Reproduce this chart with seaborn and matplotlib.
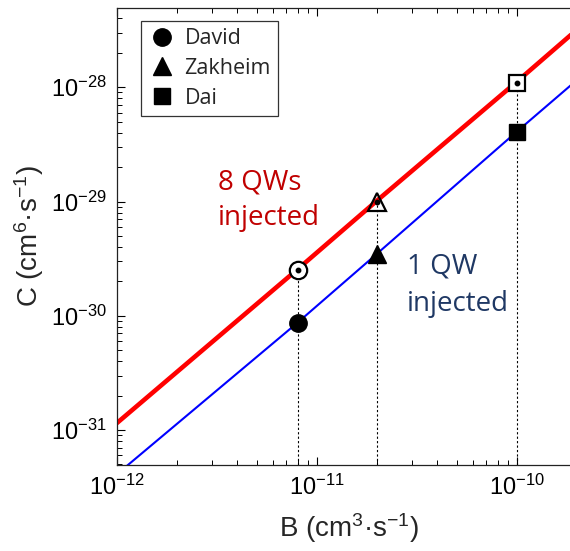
import numpy as np
import pandas as pd
import matplotlib
matplotlib.use("Agg")
import matplotlib.pyplot as plt
from matplotlib.lines import Line2D
from matplotlib.ticker import FixedLocator, NullFormatter, LogFormatterSciNotation
import seaborn as sns

# ── Data ───────────────────────────────────────────────────────
B_line = [1e-12, 8e-12, 2e-11, 1e-10, 2.1e-10]
C_8qw = [1.15e-31, 2.55e-30, 1.02e-29, 1.12e-28, 3.45e-28]
C_1qw = [4.1e-32, 8.7e-31, 3.5e-30, 4.1e-29, 1.25e-28]

refs = ["David", "Zakheim", "Dai"]
ref_markers = ["o", "^", "s"]
B_ref = [8e-12, 2e-11, 1e-10]
C_ref_8qw = [2.5e-30, 1.0e-29, 1.1e-28]
C_ref_1qw = [8.7e-31, 3.5e-30, 4.1e-29]

x_major = [1e-12, 1e-11, 1e-10]
y_major = [1e-31, 1e-30, 1e-29, 1e-28]

# ── Style ──────────────────────────────────────────────────────
sns.set_style("ticks")
plt.rcParams["font.family"] = ["Liberation Sans", "DejaVu Sans"]
plt.rcParams["mathtext.default"] = "regular"
plt.rcParams["axes.unicode_minus"] = False

fig = plt.figure(figsize=(5.70, 5.51), dpi=100)
ax = fig.add_axes([0.205, 0.156, 0.815, 0.8295])

lines = pd.DataFrame({
    "B": B_line * 2,
    "C": C_8qw + C_1qw,
    "case": ["8 QWs"] * len(B_line) + ["1 QW"] * len(B_line),
})
sns.lineplot(data=lines[lines["case"] == "8 QWs"], x="B", y="C",
             color="#ff0000", linewidth=3.3, estimator=None, ax=ax,
             legend=False)
sns.lineplot(data=lines[lines["case"] == "1 QW"], x="B", y="C",
             color="#0000ff", linewidth=1.5, estimator=None, ax=ax,
             legend=False)

ax.set_xscale("log")
ax.set_yscale("log")
ax.set_xlim(1e-12, 2.1e-10)
ax.set_ylim(4.94e-32, 4.94e-28)

# dotted guides from the bottom up to the 8 QW marker
for b, c in zip(B_ref, C_ref_8qw):
    ax.plot([b, b], [4.94e-32, c], color="black", linestyle=(0, (2, 2)),
            linewidth=0.8, zorder=2)

# reference markers
sizes = {"o": 12.5, "^": 13, "s": 11}
for name, m, b, c8, c1 in zip(refs, ref_markers, B_ref, C_ref_8qw, C_ref_1qw):
    face = "none" if m == "^" else "white"
    ax.plot([b], [c8], marker=m, markersize=sizes[m], markerfacecolor=face,
            markeredgecolor="black", markeredgewidth=1.6, linestyle="none",
            zorder=4)
    ax.plot([b], [c8], marker="o", markersize=3.2, color="black",
            linestyle="none", zorder=5)
    ax.plot([b], [c1], marker=m, markersize=sizes[m], color="black",
            linestyle="none", zorder=4)

# va="baseline" puts the last line's baseline at y
ax.text(0.2175, 0.525, "8 QWs\ninjected", transform=ax.transAxes,
        color="#c00000", fontsize=20, family=["Open Sans", "DejaVu Sans"],
        ha="left", va="baseline", linespacing=1.35)
ax.text(0.6245, 0.337, "1 QW\ninjected", transform=ax.transAxes,
        color="#1f3864", fontsize=20, family=["Open Sans", "DejaVu Sans"],
        ha="left", va="baseline", linespacing=1.45)

handles = [Line2D([], [], marker=m, color="black", linestyle="none",
                  markersize=sizes[m]) for m in ref_markers]
leg = ax.legend(handles, refs, loc="upper left",
                bbox_to_anchor=(0.053, 0.972), borderaxespad=0,
                frameon=True, fancybox=False, edgecolor="black",
                prop={"family": ["Open Sans", "DejaVu Sans"], "size": 15.5},
                handletextpad=0.45, labelspacing=0.4,
                handlelength=1.2, borderpad=0.35)
leg.get_frame().set_linewidth(0.9)

ax.xaxis.set_major_locator(FixedLocator(x_major))
ax.yaxis.set_major_locator(FixedLocator(y_major))
ax.xaxis.set_major_formatter(LogFormatterSciNotation())
ax.yaxis.set_major_formatter(LogFormatterSciNotation())
ax.xaxis.set_minor_formatter(NullFormatter())
ax.yaxis.set_minor_formatter(NullFormatter())

ax.set_xlabel("B (cm$^{3}$·s$^{-1}$)", fontsize=20, labelpad=8)
ax.set_ylabel("C (cm$^{6}$·s$^{-1}$)", fontsize=20, labelpad=4)
ax.tick_params(which="both", direction="in", top=True, right=True,
               labelsize=17, colors="black")
ax.tick_params(which="major", length=6, width=0.8, pad=7)
ax.tick_params(which="minor", length=3.5, width=0.7)
for s in ax.spines.values():
    s.set_color("#222222")
    s.set_linewidth(0.9)

fig.savefig("out.png", dpi=100)
